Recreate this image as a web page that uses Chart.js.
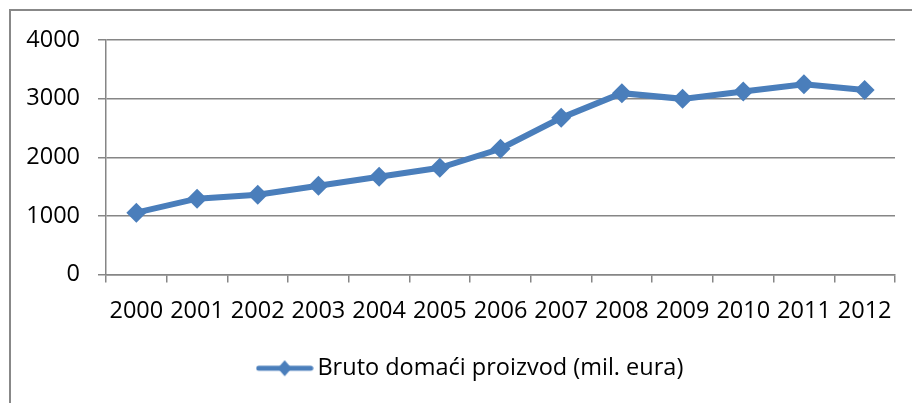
<!DOCTYPE html>
<html>
<head>
<meta charset="utf-8">
<script src="https://cdn.jsdelivr.net/npm/chart.js@4.4.0/dist/chart.umd.min.js"></script>
<style>
    html, body { margin: 0; padding: 0; background: #fff; }
    #wrap { position: relative; width: 912px; height: 403px; overflow: hidden; }
    #frame { position: absolute; left: 9px; top: 9px; width: 1000px; height: 500px;
             border-left: 2px solid #888; border-top: 2px solid #888; }
    #chart { position: absolute; left: 0; top: 0; }
</style>
</head>
<body>
<div id="wrap">
    <div id="frame"></div>
    <canvas id="chart" width="912" height="403"></canvas>
</div>
<script>
    const years = ['2000','2001','2002','2003','2004','2005','2006','2007','2008','2009','2010','2011','2012'];
    const gdp = [1055, 1294, 1362, 1515, 1668, 1821, 2145, 2672, 3093, 2996, 3120, 3246, 3149];
    const yTicks = [0, 1000, 2000, 3000, 4000];
    const seriesLabel = 'Bruto domaći proizvod (mil. eura)';

    const blue = '#4A7EBB';
    const gridGrey = '#868686';
    const fontFamily = '"Open Sans", "Noto Sans", sans-serif';
    const fontSize = 23.5;

    // small picture for the legend: line with a diamond in the middle
    function legendMark() {
        const c = document.createElement('canvas');
        c.width = 58; c.height = 22;
        const g = c.getContext('2d');
        g.strokeStyle = blue;
        g.lineWidth = 5;
        g.lineCap = 'round';
        g.beginPath();
        g.moveTo(3, 11); g.lineTo(55, 11);
        g.stroke();
        g.fillStyle = blue;
        g.beginPath();
        g.moveTo(29, 3); g.lineTo(36, 11); g.lineTo(29, 19); g.lineTo(22, 11);
        g.closePath();
        g.fill();
        return c;
    }

    // legend sits a little right of centre in the original
    const legendShift = {
        id: 'legendShift',
        afterLayout(chart) {
            if (chart.legend) {
                chart.legend.left += 26;
                chart.legend.right += 26;
            }
        }
    };

    const ctx = document.getElementById('chart').getContext('2d');
    new Chart(ctx, {
        type: 'line',
        data: {
            labels: years,
            datasets: [{
                label: seriesLabel,
                data: gdp,
                borderColor: blue,
                backgroundColor: blue,
                borderWidth: 6,
                pointStyle: 'rectRot',
                pointRadius: 10,
                pointBorderWidth: 0,
                pointBackgroundColor: blue,
                tension: 0
            }]
        },
        options: {
            responsive: false,
            animation: false,
            layout: { padding: { top: 40, right: 17, left: 0, bottom: 13 } },
            scales: {
                x: {
                    offset: true,
                    afterFit: (s) => { s.height = 72; },
                    border: { color: gridGrey, width: 1.5 },
                    grid: { offset: true, drawOnChartArea: false, color: gridGrey, lineWidth: 1.5, tickLength: 8 },
                    ticks: { color: '#000', padding: 15, maxRotation: 0, autoSkip: false, font: { family: fontFamily, size: fontSize } }
                },
                y: {
                    min: 0,
                    max: 4000,
                    afterFit: (s) => { s.width = 106; },
                    afterBuildTicks: (s) => { s.ticks = yTicks.map(v => ({ value: v })); },
                    border: { color: gridGrey, width: 1.5 },
                    grid: { color: gridGrey, lineWidth: 1.5, tickLength: 8 },
                    ticks: {
                        color: '#000',
                        padding: 18,
                        font: { family: fontFamily, size: fontSize },
                        callback: (v) => String(v)
                    }
                }
            },
            plugins: {
                tooltip: { enabled: false },
                legend: {
                    position: 'bottom',
                    labels: {
                        color: '#000',
                        usePointStyle: true,
                        pointStyleWidth: 42,
                        padding: 10,
                        font: { family: fontFamily, size: fontSize },
                        generateLabels: (chart) => [{
                            text: seriesLabel,
                            pointStyle: legendMark(),
                            fillStyle: blue,
                            strokeStyle: blue,
                            lineWidth: 0,
                            datasetIndex: 0
                        }]
                    }
                }
            }
        },
        plugins: [legendShift]
    });
</script>
</body>
</html>
